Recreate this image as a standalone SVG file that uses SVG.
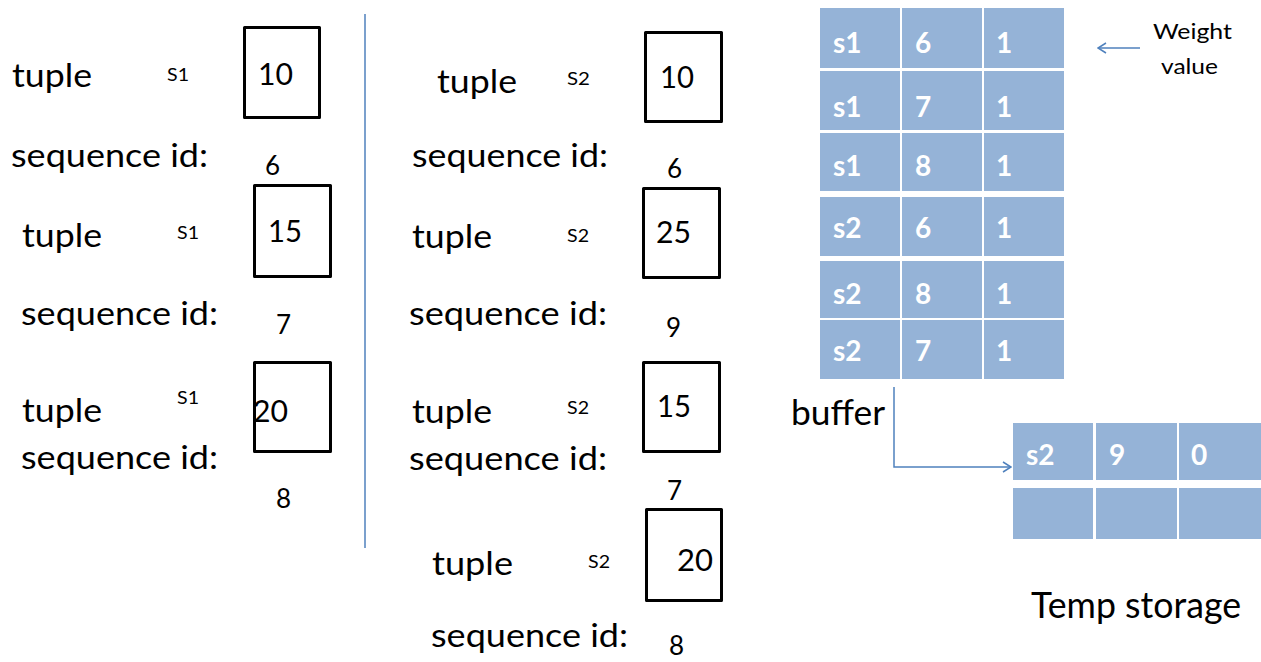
<svg xmlns="http://www.w3.org/2000/svg" width="1261" height="662" viewBox="0 0 1261 662">
  <style>
    text { font-family: Lato, "Liberation Sans", sans-serif; fill: #000; }
    .lbl { font-size: 32px; }
    .src { font-size: 17px; }
    .val { font-size: 30px; }
    .seq { font-size: 26px; }
    .box { fill: none; stroke: #000; stroke-width: 3; stroke-linejoin: round; }
    .cell { fill: #95b3d7; }
    .ct { font-size: 28px; font-weight: bold; fill: #fff; }
    .link { fill: none; stroke: #4f81bd; stroke-width: 1.5; }
    .note { font-size: 22px; }
    .cap { font-size: 34px; }
    .title { font-size: 36px; }
  </style>
  <defs>
    <marker id="chev" viewBox="0 0 10 12" refX="9" refY="6" markerWidth="10" markerHeight="12" markerUnits="userSpaceOnUse" orient="auto">
      <path d="M1,1 L9,6 L1,11" fill="none" stroke="#4f81bd" stroke-width="1.5"/>
    </marker>
  </defs>
  <rect width="1261" height="662" fill="#fff"/>

  <!-- stream S1 -->
  <g id="s1-t10">
    <text class="lbl" x="12" y="87" textLength="80" lengthAdjust="spacingAndGlyphs">tuple</text>
    <text class="src" x="167" y="81" textLength="22" lengthAdjust="spacingAndGlyphs">S1</text>
    <rect class="box" x="244.5" y="27.5" width="75" height="90"/>
    <text class="val" x="258" y="85" textLength="35" lengthAdjust="spacingAndGlyphs">10</text>
    <text class="lbl" x="11" y="167" textLength="197" lengthAdjust="spacingAndGlyphs">sequence id:</text>
    <text class="seq" x="265" y="175">6</text>
  </g>
  <g id="s1-t15">
    <text class="lbl" x="22" y="247" textLength="80" lengthAdjust="spacingAndGlyphs">tuple</text>
    <text class="src" x="177" y="239" textLength="22" lengthAdjust="spacingAndGlyphs">S1</text>
    <rect class="box" x="254.5" y="185.5" width="76" height="91"/>
    <text class="val" x="268" y="242" textLength="34" lengthAdjust="spacingAndGlyphs">15</text>
    <text class="lbl" x="21" y="325" textLength="197" lengthAdjust="spacingAndGlyphs">sequence id:</text>
    <text class="seq" x="276" y="334">7</text>
  </g>
  <g id="s1-t20">
    <text class="lbl" x="22" y="422" textLength="80" lengthAdjust="spacingAndGlyphs">tuple</text>
    <text class="src" x="177" y="404" textLength="22" lengthAdjust="spacingAndGlyphs">S1</text>
    <rect class="box" x="254.5" y="362.5" width="76" height="89"/>
    <text class="val" x="253" y="422" textLength="35" lengthAdjust="spacingAndGlyphs">20</text>
    <text class="lbl" x="21" y="469" textLength="197" lengthAdjust="spacingAndGlyphs">sequence id:</text>
    <text class="seq" x="276" y="508">8</text>
  </g>

  <!-- stream S2 -->
  <g id="s2-t10">
    <text class="lbl" x="437" y="93" textLength="80" lengthAdjust="spacingAndGlyphs">tuple</text>
    <text class="src" x="567" y="85" textLength="23" lengthAdjust="spacingAndGlyphs">S2</text>
    <rect class="box" x="645.5" y="32.5" width="76" height="89"/>
    <text class="val" x="660" y="88" textLength="34" lengthAdjust="spacingAndGlyphs">10</text>
    <text class="lbl" x="412" y="167" textLength="196" lengthAdjust="spacingAndGlyphs">sequence id:</text>
    <text class="seq" x="667" y="178">6</text>
  </g>
  <g id="s2-t25">
    <text class="lbl" x="412" y="248" textLength="80" lengthAdjust="spacingAndGlyphs">tuple</text>
    <text class="src" x="567" y="242" textLength="22" lengthAdjust="spacingAndGlyphs">S2</text>
    <rect class="box" x="643.5" y="188.5" width="76" height="89"/>
    <text class="val" x="656" y="243" textLength="35" lengthAdjust="spacingAndGlyphs">25</text>
    <text class="lbl" x="409" y="325" textLength="198" lengthAdjust="spacingAndGlyphs">sequence id:</text>
    <text class="seq" x="666" y="337">9</text>
  </g>
  <g id="s2-t15">
    <text class="lbl" x="412" y="423" textLength="80" lengthAdjust="spacingAndGlyphs">tuple</text>
    <text class="src" x="567" y="414" textLength="22" lengthAdjust="spacingAndGlyphs">S2</text>
    <rect class="box" x="643.5" y="362.5" width="76" height="89"/>
    <text class="val" x="657" y="417" textLength="34" lengthAdjust="spacingAndGlyphs">15</text>
    <text class="lbl" x="409" y="470" textLength="198" lengthAdjust="spacingAndGlyphs">sequence id:</text>
    <text class="seq" x="667" y="500">7</text>
  </g>
  <g id="s2-t20">
    <text class="lbl" x="432" y="575" textLength="81" lengthAdjust="spacingAndGlyphs">tuple</text>
    <text class="src" x="588" y="568" textLength="22" lengthAdjust="spacingAndGlyphs">S2</text>
    <rect class="box" x="646.5" y="509.5" width="75" height="91"/>
    <text class="val" x="677" y="571" textLength="36" lengthAdjust="spacingAndGlyphs">20</text>
    <text class="lbl" x="431" y="647" textLength="197" lengthAdjust="spacingAndGlyphs">sequence id:</text>
    <text class="seq" x="669" y="655">8</text>
  </g>

  <!-- buffer table: stream, sequence id, weight -->
  <g id="buffer">
    <rect class="cell" x="820" y="8" width="80" height="60"/>
    <rect class="cell" x="902" y="8" width="80" height="60"/>
    <rect class="cell" x="984" y="8" width="80" height="60"/>
    <rect class="cell" x="820" y="71" width="80" height="59"/>
    <rect class="cell" x="902" y="71" width="80" height="59"/>
    <rect class="cell" x="984" y="71" width="80" height="59"/>
    <rect class="cell" x="820" y="133" width="80" height="58"/>
    <rect class="cell" x="902" y="133" width="80" height="58"/>
    <rect class="cell" x="984" y="133" width="80" height="58"/>
    <rect class="cell" x="820" y="197" width="80" height="59"/>
    <rect class="cell" x="902" y="197" width="80" height="59"/>
    <rect class="cell" x="984" y="197" width="80" height="59"/>
    <rect class="cell" x="820" y="261" width="80" height="57"/>
    <rect class="cell" x="902" y="261" width="80" height="57"/>
    <rect class="cell" x="984" y="261" width="80" height="57"/>
    <rect class="cell" x="820" y="320" width="80" height="59"/>
    <rect class="cell" x="902" y="320" width="80" height="59"/>
    <rect class="cell" x="984" y="320" width="80" height="59"/>
    <text class="ct" x="833" y="53">s1</text><text class="ct" x="915" y="53">6</text><text class="ct" x="996" y="53">1</text>
    <text class="ct" x="833" y="117">s1</text><text class="ct" x="915" y="117">7</text><text class="ct" x="996" y="117">1</text>
    <text class="ct" x="833" y="176">s1</text><text class="ct" x="915" y="176">8</text><text class="ct" x="996" y="176">1</text>
    <text class="ct" x="833" y="238">s2</text><text class="ct" x="915" y="238">6</text><text class="ct" x="996" y="238">1</text>
    <text class="ct" x="833" y="304">s2</text><text class="ct" x="915" y="304">8</text><text class="ct" x="996" y="304">1</text>
    <text class="ct" x="833" y="361">s2</text><text class="ct" x="915" y="361">7</text><text class="ct" x="996" y="361">1</text>
    <text class="cap" x="791" y="425" textLength="94" lengthAdjust="spacingAndGlyphs">buffer</text>
  </g>

  <g id="weight-note">
    <text class="note" x="1153" y="39" textLength="79" lengthAdjust="spacingAndGlyphs">Weight</text>
    <text class="note" x="1161" y="74" textLength="57" lengthAdjust="spacingAndGlyphs">value</text>
  </g>

  <!-- temporary storage table -->
  <g id="temp-storage">
    <rect class="cell" x="1013" y="423" width="80" height="57"/>
    <rect class="cell" x="1096" y="423" width="81" height="57"/>
    <rect class="cell" x="1179" y="423" width="82" height="57"/>
    <rect class="cell" x="1013" y="488" width="80" height="51"/>
    <rect class="cell" x="1096" y="488" width="81" height="51"/>
    <rect class="cell" x="1179" y="488" width="82" height="51"/>
    <text class="ct" x="1026" y="465">s2</text><text class="ct" x="1109" y="465">9</text><text class="ct" x="1191" y="465">0</text>
    <text class="title" x="1031" y="618" textLength="210" lengthAdjust="spacingAndGlyphs">Temp storage</text>
  </g>

  <g id="connectors">
    <line class="link" x1="365" y1="14" x2="365" y2="548"/>
    <path class="link" d="M1140,48 H1098" marker-end="url(#chev)"/>
    <path class="link" d="M894,387 V467 H1011" marker-end="url(#chev)"/>
  </g>
</svg>
